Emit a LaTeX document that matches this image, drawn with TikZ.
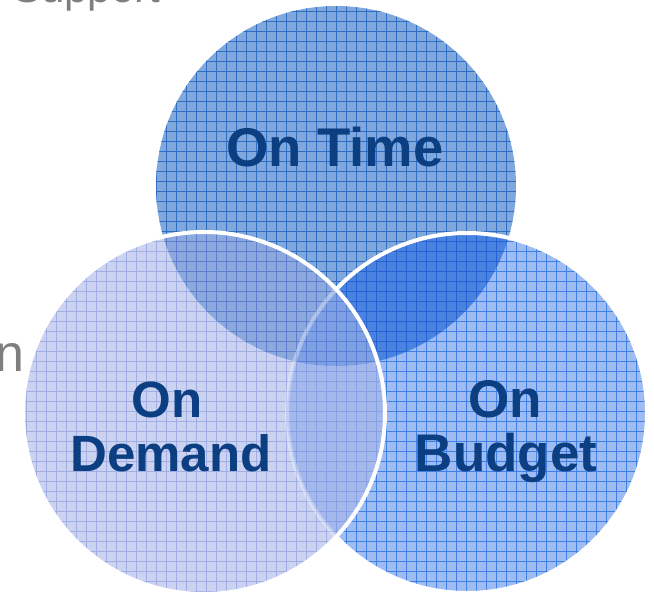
\documentclass[tikz,border=0pt]{standalone}
\usepackage{fontspec}
\setmainfont{Liberation Sans}
\definecolor{cT}{HTML}{80A8DD}\definecolor{gT}{HTML}{2F6DC3}
\definecolor{cR}{HTML}{9EBCF2}\definecolor{gR}{HTML}{3F80E6}
\definecolor{cL}{HTML}{CBD3F1}\definecolor{gL}{HTML}{A0AEE4}
\definecolor{cTR}{HTML}{4A82E0}\definecolor{gTR}{HTML}{2563D2}
\definecolor{cTL}{HTML}{8CA8DD}\definecolor{gTL}{HTML}{5C80CC}
\definecolor{cLR}{HTML}{A4B8EC}\definecolor{gLR}{HTML}{86A0E4}
\definecolor{cTLR}{HTML}{7FA0E2}\definecolor{gTLR}{HTML}{5A80D6}
\definecolor{navy}{HTML}{0C3E82}
\definecolor{graytxt}{HTML}{7F7F7F}
\newcommand\myclipT{\clip (cT) circle[radius=180];}
\newcommand\myclipR{\clip (cR) circle[radius=180];}
\newcommand\myclipL{\clip (cL) circle[radius=181];}
\newcommand\paintregion[2]{%
  \fill[#1] (-10,-10) rectangle (664,603);
  \foreach \i in {0,...,65} {
    \draw[#2, line width=0.75pt] (\i*10+6.7,-10) -- (\i*10+6.7,603);
  }
  \foreach \j in {0,...,60} {
    \draw[#2, line width=0.75pt] (-10,\j*10+1) -- (664,\j*10+1);
  }}
\tikzset{
  lbl/.style={font=\bfseries\fontsize{53}{56}\selectfont, text=navy, inner sep=0pt, anchor=base},
  side/.style={font=\fontsize{42}{46}\selectfont, text=graytxt, inner sep=0pt}
}
\begin{document}
\begin{tikzpicture}[x=1pt,y=-1pt]
\useasboundingbox (0,0) rectangle (654,593);
\coordinate (cT) at (336,186);
\coordinate (cR) at (467,413);
\coordinate (cL) at (204,413);
% top circle
\begin{scope}\myclipT \paintregion{cT}{gT}\end{scope}
% right circle
\begin{scope}\myclipR \paintregion{cR}{gR}\end{scope}
\begin{scope}\myclipT \myclipR \paintregion{cTR}{gTR}\end{scope}
\draw[white, line width=4pt] (cR) circle[radius=180];
% left circle
\begin{scope}\myclipL \paintregion{cL}{gL}\end{scope}
\begin{scope}\myclipL \myclipT \paintregion{cTL}{gTL}\end{scope}
\begin{scope}\myclipL \myclipR \paintregion{cLR}{gLR}\end{scope}
\begin{scope}\myclipL \myclipT \myclipR \paintregion{cTLR}{gTLR}\end{scope}
\begin{scope}\myclipL
  \draw[white, opacity=0.35, line width=4pt] (cR) circle[radius=180];
\end{scope}
\draw[white, line width=4pt] (cL) circle[radius=181];
% labels
\node[lbl, font=\bfseries\fontsize{54.5}{58}\selectfont] (ontime) at (335,167) {On Time};
\node[lbl, font=\bfseries\fontsize{51}{54}\selectfont] (ondem1) at (167,418) {On};
\node[lbl, font=\bfseries\fontsize{51}{54}\selectfont] (ondem2) at (171,472) {Demand};
\node[lbl] (onbud1) at (505,418) {On};
\node[lbl] (onbud2) at (506,472) {Budget};
\node[side, anchor=base west] (support) at (13,3) {Support};
\node[side, font=\fontsize{52}{56}\selectfont, anchor=base east] (nfrag) at (24.5,372) {n};
\end{tikzpicture}
\end{document}
